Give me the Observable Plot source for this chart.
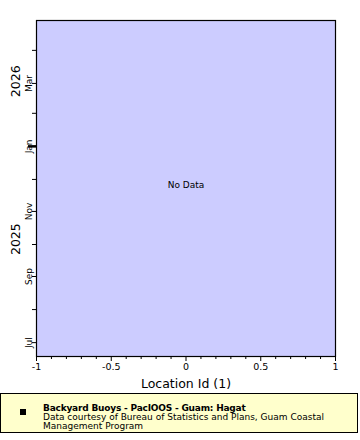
<!DOCTYPE html>
<html><head><meta charset="utf-8">
<script src="https://cdn.jsdelivr.net/npm/d3@7"></script>
<script src="https://cdn.jsdelivr.net/npm/@observablehq/plot@0.6"></script>
<style>
body{margin:0;background:#fff;font-family:"DejaVu Sans",sans-serif;}
#chart svg{display:block;}
#legend{position:absolute;left:0;top:393px;width:356px;height:38px;border:1px solid #000;background:#ffffcc;color:#000;}
#legend .mark{position:absolute;left:19px;top:15px;width:6px;height:6px;background:#000;}
#legend .txt{position:absolute;left:42px;top:10px;font-size:9px;line-height:9px;white-space:nowrap;}
#legend .txt b{font-weight:bold;letter-spacing:-0.2px;}
</style></head><body>
<div id="chart"></div>
<div id="legend"></div>
<script>
const xDomain = [-1, 1];
const xMajorTicks = [-1, -0.5, 0, 0.5, 1];
const xMinorTicks = [-0.9, -0.8, -0.7, -0.6, -0.4, -0.3, -0.2, -0.1, 0.1, 0.2, 0.3, 0.4, 0.6, 0.7, 0.8, 0.9];
const yDomain = ["2025-06-18", "2026-04-29"];
const monthTicks = ["2025-07-01","2025-08-01","2025-09-01","2025-10-01","2025-11-01","2025-12-01","2026-01-01","2026-02-01","2026-03-01","2026-04-01"];
const monthLabelDates = ["2025-07-01","2025-09-01","2025-11-01","2026-01-01","2026-03-01"];
const monthLabelTexts = ["Jul","Sep","Nov","Jan","Mar"];
const yearTicks = ["2026-01-01"];
const yearLabelDates = ["2025-10-06","2026-03-03"];
const yearLabelTexts = ["2025","2026"];
const noDataText = "No Data";
const xLabel = "Location Id (1)";
const legendTitle = "Backyard Buoys - PacIOOS - Guam: Hagat";
const legendLines = ["Data courtesy of Bureau of Statistics and Plans, Guam Coastal", "Management Program"];

const d = s => new Date(s + "T00:00:00Z");
const monthLabels = monthLabelDates.map((s, i) => ({date: d(s), label: monthLabelTexts[i]}));
const yearLabels = yearLabelDates.map((s, i) => ({date: d(s), label: yearLabelTexts[i]}));

const plot = Plot.plot({
  width: 360,
  height: 393,
  marginLeft: 36,
  marginRight: 25,
  marginTop: 20,
  marginBottom: 37,
  style: {fontFamily: "DejaVu Sans, sans-serif", color: "#000", background: "#fff"},
  x: {domain: xDomain, axis: null},
  y: {type: "utc", domain: yDomain.map(d), axis: null},
  marks: [
    Plot.frame({fill: "#ccccff", stroke: "#000", strokeWidth: 1.2}),
    Plot.axisX({ticks: xMajorTicks, tickSize: 5, tickPadding: 2, fontSize: 9.5, tickFormat: v => String(v), stroke: "#000"}),
    Plot.axisX({ticks: xMinorTicks, tickSize: 3, text: null, stroke: "#000"}),
    Plot.axisY({ticks: monthTicks.map(d), tickSize: 4, text: null, stroke: "#000"}),
    Plot.axisY({ticks: yearTicks.map(d), tickSize: 8, text: null, stroke: "#000", strokeWidth: 2.5}),
    Plot.text(monthLabels, {y: "date", text: "label", frameAnchor: "left", dx: -5, rotate: -90, textAnchor: "middle", lineAnchor: "bottom", fontSize: 9, fill: "#000"}),
    Plot.text(yearLabels, {y: "date", text: "label", frameAnchor: "left", dx: -21, rotate: -90, textAnchor: "middle", lineAnchor: "middle", fontSize: 12.5, fill: "#000"}),
    Plot.text([noDataText], {frameAnchor: "middle", dy: -3, fontSize: 9, fill: "#000"}),
    Plot.text([xLabel], {frameAnchor: "bottom", dy: 27, fontSize: 12.5, fill: "#000", lineAnchor: "middle"})
  ]
});
document.getElementById("chart").appendChild(plot);

const leg = document.getElementById("legend");
leg.innerHTML = '<div class="mark"></div><div class="txt"><b></b></div>';
leg.querySelector("b").textContent = legendTitle;
const txt = leg.querySelector(".txt");
legendLines.forEach(l => { txt.appendChild(document.createElement("br")); txt.appendChild(document.createTextNode(l)); });
</script>
</body></html>
